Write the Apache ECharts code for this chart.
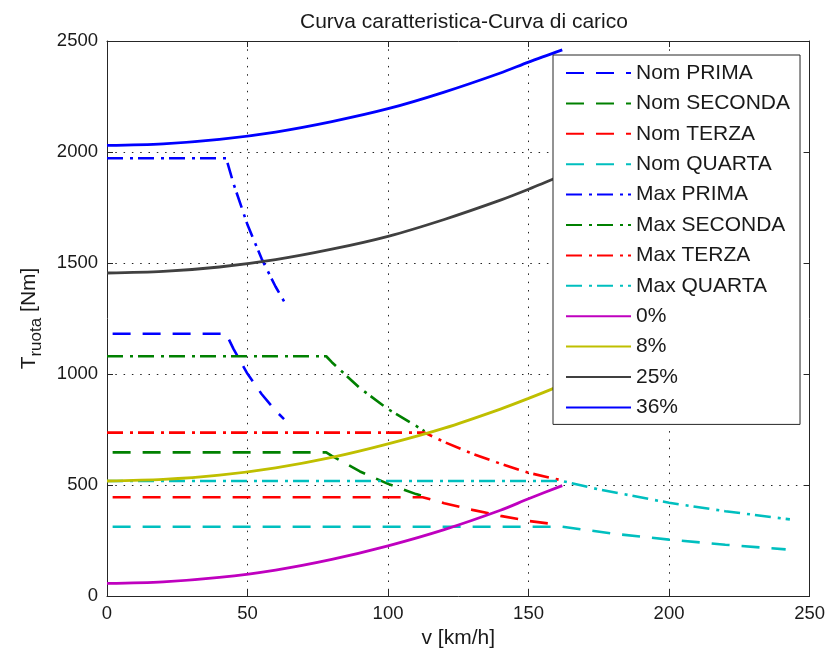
<!DOCTYPE html>
<html>
<head>
<meta charset="utf-8">
<script src="https://cdn.jsdelivr.net/npm/echarts@6/dist/echarts.min.js"></script>
<style>html,body{margin:0;padding:0;background:#fff}#c{width:828px;height:655px}</style>
</head>
<body>
<div id="c"></div>
<script>
// ---- tick values ----
var xTicks = [0, 50, 100, 150, 200, 250];
var yTicks = [0, 500, 1000, 1500, 2000, 2500];

// ---- load curves (v in km/h, T in Nm) ----
var loadV   = [0, 20, 40, 60, 80, 100, 120, 140, 150, 162];
var load0   = [57, 64, 84, 117, 165, 226, 299, 386, 438, 497];
var load8   = [518, 525, 544, 577, 624, 685, 756, 842, 890, 951];
var load25  = [1455, 1462, 1482, 1515, 1562, 1620, 1696, 1783, 1832, 1895];
var load36  = [2030, 2037, 2057, 2090, 2137, 2195, 2270, 2356, 2405, 2460];

// ---- gear curves ----
var nomPrimaV = [2, 42.4, 45, 50, 55, 60, 63];
var nomPrimaT = [1181, 1181, 1113, 1001, 910, 834, 797];
var nomSecondaV = [2, 78, 80, 90, 100, 110, 112.3];
var nomSecondaT = [647, 647, 631, 561, 505, 459, 450];
var nomTerzaV = [2, 112.3, 120, 130, 140, 150, 160];
var nomTerzaT = [445, 445, 418, 388, 361, 338, 322];
var nomQuartaV = [2, 162, 180, 200, 220, 241.5];
var nomQuartaT = [312, 312, 281, 254, 231, 210];

var maxPrimaV = [0, 42.4, 45, 50, 55, 60, 63.2];
var maxPrimaT = [1972, 1972, 1858, 1672, 1520, 1393, 1323];
var maxSecondaV = [0, 78, 80, 90, 100, 110, 113];
var maxSecondaT = [1080, 1080, 1053, 936, 842, 766, 742];
var maxTerzaV = [0, 113, 120, 130, 140, 150, 161.5];
var maxTerzaT = [736, 736, 694, 641, 596, 555, 522];
var maxQuartaV = [0, 162, 175, 200, 220, 243];
var maxQuartaT = [518, 518, 480, 420, 382, 345];

var names = ['Nom PRIMA','Nom SECONDA','Nom TERZA','Nom QUARTA','Max PRIMA','Max SECONDA','Max TERZA','Max QUARTA','0%','8%','25%','36%'];

function pairs(v, t) { return v.map(function (x, i) { return [x, t[i]]; }); }

var DASH = [18, 12];
var DASHDOT = [16, 7, 3, 5];
var C = { b: '#0000ff', g: '#008000', r: '#ff0000', c: '#00bfbf', m: '#bf00bf', y: '#bfbf00', k: '#404040' };

function mk(name, data, color, type, w, smooth) {
  return {
    name: name, type: 'line', data: data, showSymbol: false, symbol: 'none',
    smooth: smooth || false,
    lineStyle: { color: color, width: w || 2.6, type: type },
    itemStyle: { color: color }, animation: false, z: 2
  };
}

var series = [
  mk(names[0], pairs(nomPrimaV, nomPrimaT), C.b, DASH),
  mk(names[1], pairs(nomSecondaV, nomSecondaT), C.g, DASH),
  mk(names[2], pairs(nomTerzaV, nomTerzaT), C.r, DASH),
  mk(names[3], pairs(nomQuartaV, nomQuartaT), C.c, DASH),
  mk(names[4], pairs(maxPrimaV, maxPrimaT), C.b, DASHDOT),
  mk(names[5], pairs(maxSecondaV, maxSecondaT), C.g, DASHDOT),
  mk(names[6], pairs(maxTerzaV, maxTerzaT), C.r, DASHDOT),
  mk(names[7], pairs(maxQuartaV, maxQuartaT), C.c, DASHDOT),
  mk(names[8], pairs(loadV, load0), C.m, 'solid', 2.8, 0.3),
  mk(names[9], pairs(loadV, load8), C.y, 'solid', 2.8, 0.3),
  mk(names[10], pairs(loadV, load25), C.k, 'solid', 2.8, 0.3),
  mk(names[11], pairs(loadV, load36), C.b, 'solid', 2.8, 0.3)
];

var FONT = '"Liberation Sans", Arial, sans-serif';
var TXT = '#1a1a1a';
var axisLine = { show: true, onZero: false, lineStyle: { color: '#262626', width: 1 } };
var tickIn = { show: true, inside: true, length: 6, lineStyle: { color: '#262626', width: 1 } };

var chart = echarts.init(document.getElementById('c'), null, { renderer: 'canvas' });
chart.setOption({
  backgroundColor: '#ffffff',
  animation: false,
  title: {
    text: 'Curva caratteristica-Curva di carico',
    left: 295, top: 7,
    textStyle: { fontFamily: FONT, fontSize: 21, fontWeight: 'normal', color: TXT }
  },
  grid: { left: 107, right: 14, top: 41, bottom: 59, containLabel: false },
  legend: {
    orient: 'vertical', left: 553, top: 55,
    data: names,
    itemWidth: 65, itemHeight: 14, itemGap: 8.4,
    padding: [7, 10, 6, 12],
    backgroundColor: '#ffffff', borderColor: '#262626', borderWidth: 1,
    itemStyle: { opacity: 0 },
    textStyle: { fontFamily: FONT, fontSize: 21, color: TXT, lineHeight: 22 },
    selectedMode: false, z: 10
  },
  xAxis: [{
    type: 'value', min: 0, max: 250, interval: 50, position: 'bottom',
    name: 'v [km/h]', nameLocation: 'middle', nameGap: 29,
    nameTextStyle: { fontFamily: FONT, fontSize: 21, color: TXT },
    axisLine: axisLine, axisTick: tickIn,
    axisLabel: { fontFamily: FONT, fontSize: 18.5, color: TXT, margin: 8,
      formatter: function (v) { return xTicks.indexOf(v) >= 0 ? String(v) : ''; } },
    splitLine: { show: true, lineStyle: { color: '#222', width: 1, type: [1.5, 6.8] } }
  }, {
    type: 'value', min: 0, max: 250, interval: 50, position: 'top',
    axisLine: axisLine, axisTick: tickIn, axisLabel: { show: false }, splitLine: { show: false }
  }],
  yAxis: [{
    type: 'value', min: 0, max: 2500, interval: 500, position: 'left',
    name: '{a|T}{b|ruota}{a| [Nm]}', nameLocation: 'middle', nameGap: 62, nameRotate: 90,
    nameTextStyle: {
      fontFamily: FONT, color: TXT,
      rich: {
        a: { fontFamily: FONT, fontSize: 21, color: TXT, lineHeight: 26, verticalAlign: 'top' },
        b: { fontFamily: FONT, fontSize: 17, color: TXT, lineHeight: 26, verticalAlign: 'bottom', padding: [12, 0, 0, 0] }
      }
    },
    axisLine: axisLine, axisTick: tickIn,
    axisLabel: { fontFamily: FONT, fontSize: 18.5, color: TXT, margin: 9,
      formatter: function (v) { return yTicks.indexOf(v) >= 0 ? String(v) : ''; } },
    splitLine: { show: true, lineStyle: { color: '#222', width: 1, type: [1.5, 6.8] } }
  }, {
    type: 'value', min: 0, max: 2500, interval: 500, position: 'right',
    axisLine: axisLine, axisTick: tickIn, axisLabel: { show: false }, splitLine: { show: false }
  }],
  series: series
});
</script>
</body>
</html>
